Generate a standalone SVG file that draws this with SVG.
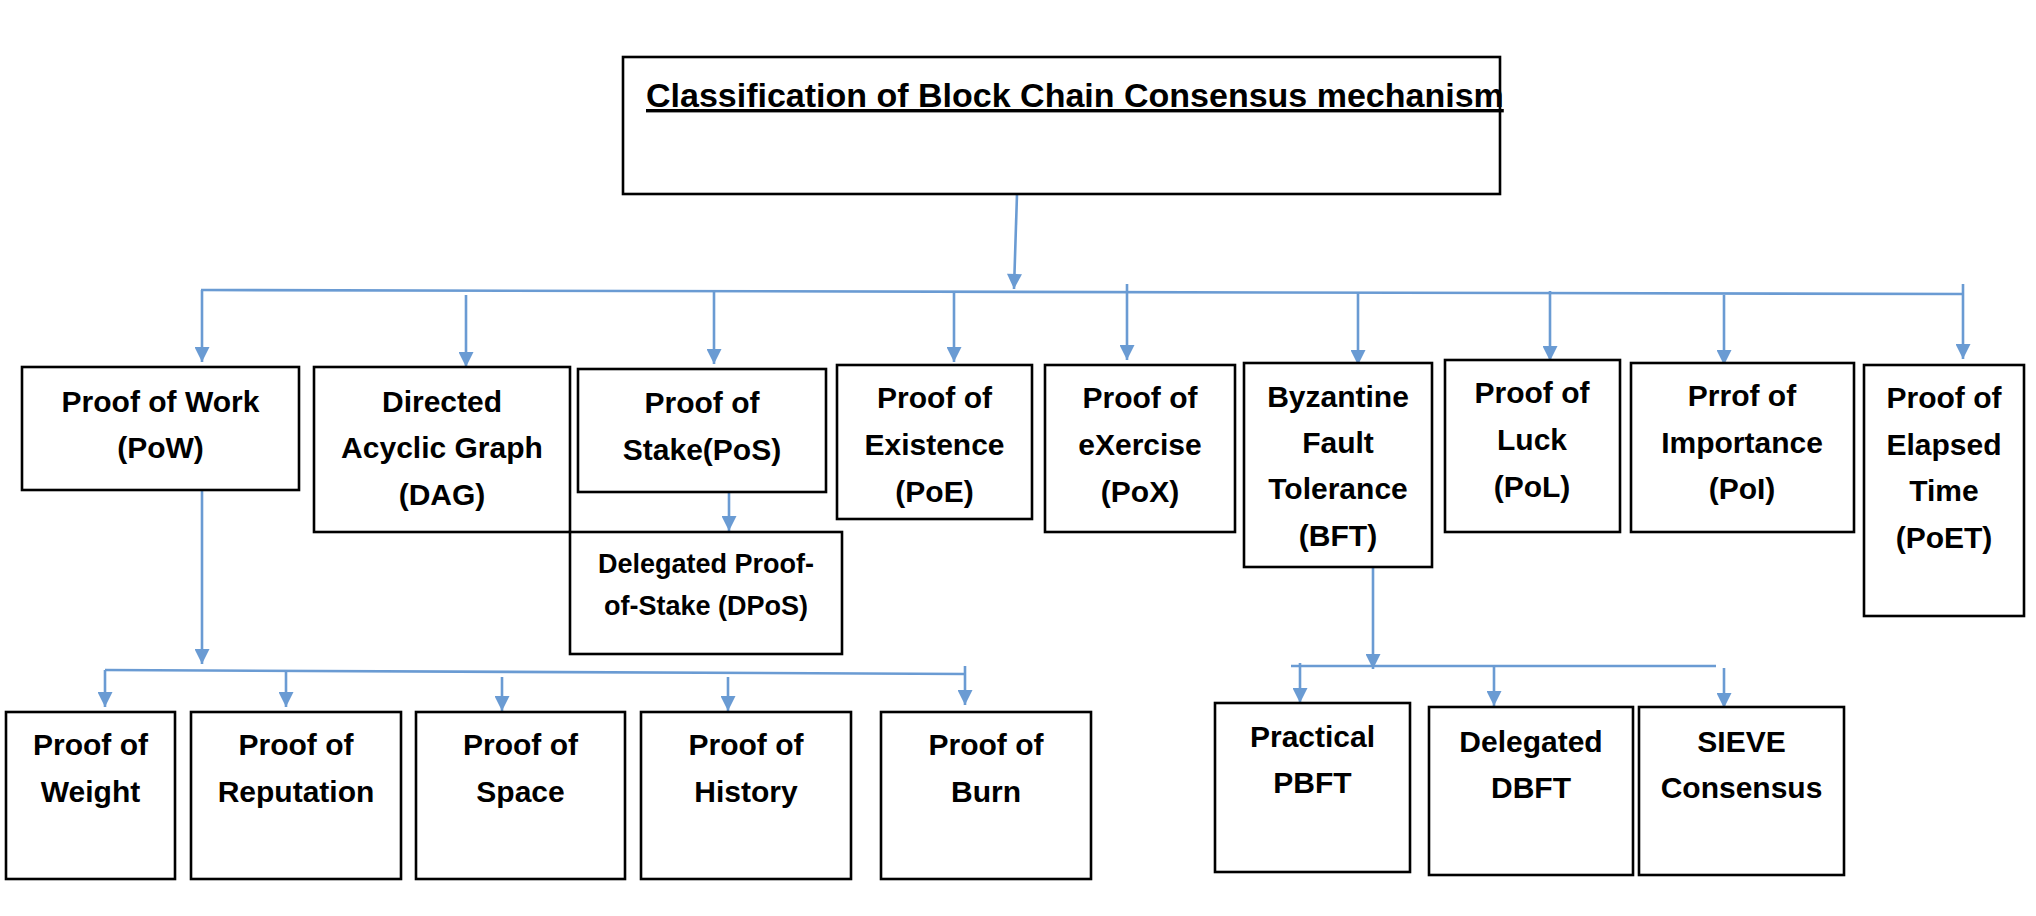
<svg xmlns="http://www.w3.org/2000/svg" width="2036" height="916" viewBox="0 0 2036 916">
<style>
.box{fill:#fff;stroke:#000;stroke-width:2.6}
.t{font-family:"Liberation Sans",Arial,sans-serif;font-weight:bold;font-size:30px;fill:#000;text-anchor:middle}
.t27{font-size:27px}
.c{stroke:#6a9bd3;stroke-width:2.6;fill:none}
.a{marker-end:url(#ah)}
</style>
<defs>
<marker id="ah" viewBox="0 0 10 10" refX="10" refY="5" markerWidth="17" markerHeight="15" markerUnits="userSpaceOnUse" orient="auto">
<path d="M0,0 L10,5 L0,10 z" fill="#6a9bd3"/>
</marker>
</defs>
<rect width="2036" height="916" fill="#fff"/>
<g id="connectors">
<line class="c a" x1="1017" y1="194" x2="1014" y2="289"/>
<line class="c" x1="201" y1="290" x2="1963" y2="294"/>
<line class="c a" x1="202" y1="290" x2="202" y2="362"/>
<line class="c a" x1="466" y1="295" x2="466" y2="367"/>
<line class="c a" x1="714" y1="291" x2="714" y2="364"/>
<line class="c a" x1="954" y1="291" x2="954" y2="362"/>
<line class="c a" x1="1127" y1="284" x2="1127" y2="360"/>
<line class="c a" x1="1358" y1="293" x2="1358" y2="365"/>
<line class="c a" x1="1550" y1="291" x2="1550" y2="361"/>
<line class="c a" x1="1724" y1="295" x2="1724" y2="365"/>
<line class="c a" x1="1963" y1="284" x2="1963" y2="359"/>
<line class="c a" x1="729" y1="488" x2="729" y2="531"/>
<line class="c a" x1="202" y1="482" x2="202" y2="664"/>
<line class="c" x1="105" y1="670" x2="965" y2="674"/>
<line class="c a" x1="105" y1="670" x2="105" y2="707"/>
<line class="c a" x1="286" y1="671" x2="286" y2="707"/>
<line class="c a" x1="502" y1="677" x2="502" y2="711"/>
<line class="c a" x1="728" y1="677" x2="728" y2="711"/>
<line class="c a" x1="965" y1="666" x2="965" y2="705"/>
<line class="c a" x1="1373" y1="556" x2="1373" y2="669"/>
<line class="c" x1="1291" y1="666" x2="1716" y2="666"/>
<line class="c a" x1="1300" y1="663" x2="1300" y2="703"/>
<line class="c a" x1="1494" y1="666" x2="1494" y2="706"/>
<line class="c a" x1="1724" y1="668" x2="1724" y2="708"/>
</g>
<g id="title">
<rect class="box" x="623" y="57" width="877" height="137"/>
<text x="646" y="107" font-family="Liberation Sans, Arial, sans-serif" font-weight="bold" font-size="34" text-decoration="underline">Classification of Block Chain Consensus mechanism</text>
</g>
<g id="pow">
<rect class="box" x="22" y="367" width="277" height="123"/>
<text class="t" x="160.5" y="412">Proof of Work</text>
<text class="t" x="160.5" y="458">(PoW)</text>
</g>
<g id="dag">
<rect class="box" x="314" y="367" width="256" height="165"/>
<text class="t" x="442" y="412">Directed</text>
<text class="t" x="442" y="458">Acyclic Graph</text>
<text class="t" x="442" y="505">(DAG)</text>
</g>
<g id="pos">
<rect class="box" x="578" y="369" width="248" height="123"/>
<text class="t" x="702" y="413">Proof of</text>
<text class="t" x="702" y="460">Stake(PoS)</text>
</g>
<g id="dpos">
<rect class="box" x="570" y="532" width="272" height="122"/>
<text class="t t27" x="706" y="573">Delegated Proof-</text>
<text class="t t27" x="706" y="615">of-Stake (DPoS)</text>
</g>
<g id="poe">
<rect class="box" x="837" y="365" width="195" height="154"/>
<text class="t" x="934.5" y="408">Proof of</text>
<text class="t" x="934.5" y="455">Existence</text>
<text class="t" x="934.5" y="502">(PoE)</text>
</g>
<g id="pox">
<rect class="box" x="1045" y="365" width="190" height="167"/>
<text class="t" x="1140" y="408">Proof of</text>
<text class="t" x="1140" y="455">eXercise</text>
<text class="t" x="1140" y="502">(PoX)</text>
</g>
<g id="bft">
<rect class="box" x="1244" y="363" width="188" height="204"/>
<text class="t" x="1338" y="407">Byzantine</text>
<text class="t" x="1338" y="453">Fault</text>
<text class="t" x="1338" y="499">Tolerance</text>
<text class="t" x="1338" y="546">(BFT)</text>
</g>
<g id="pol">
<rect class="box" x="1445" y="360" width="175" height="172"/>
<text class="t" x="1532" y="403">Proof of</text>
<text class="t" x="1532" y="450">Luck</text>
<text class="t" x="1532" y="497">(PoL)</text>
</g>
<g id="poi">
<rect class="box" x="1631" y="363" width="223" height="169"/>
<text class="t" x="1742" y="406">Prrof of</text>
<text class="t" x="1742" y="453">Importance</text>
<text class="t" x="1742" y="499">(PoI)</text>
</g>
<g id="poet">
<rect class="box" x="1864" y="365" width="160" height="251"/>
<text class="t" x="1944" y="408">Proof of</text>
<text class="t" x="1944" y="455">Elapsed</text>
<text class="t" x="1944" y="501">Time</text>
<text class="t" x="1944" y="548">(PoET)</text>
</g>
<g id="weight">
<rect class="box" x="6" y="712" width="169" height="167"/>
<text class="t" x="90.5" y="755">Proof of</text>
<text class="t" x="90.5" y="802">Weight</text>
</g>
<g id="reputation">
<rect class="box" x="191" y="712" width="210" height="167"/>
<text class="t" x="296" y="755">Proof of</text>
<text class="t" x="296" y="802">Reputation</text>
</g>
<g id="space">
<rect class="box" x="416" y="712" width="209" height="167"/>
<text class="t" x="520.5" y="755">Proof of</text>
<text class="t" x="520.5" y="802">Space</text>
</g>
<g id="history">
<rect class="box" x="641" y="712" width="210" height="167"/>
<text class="t" x="746" y="755">Proof of</text>
<text class="t" x="746" y="802">History</text>
</g>
<g id="burn">
<rect class="box" x="881" y="712" width="210" height="167"/>
<text class="t" x="986" y="755">Proof of</text>
<text class="t" x="986" y="802">Burn</text>
</g>
<g id="practical">
<rect class="box" x="1215" y="703" width="195" height="169"/>
<text class="t" x="1312.5" y="747">Practical</text>
<text class="t" x="1312.5" y="793">PBFT</text>
</g>
<g id="delegated">
<rect class="box" x="1429" y="707" width="204" height="168"/>
<text class="t" x="1531" y="752">Delegated</text>
<text class="t" x="1531" y="798">DBFT</text>
</g>
<g id="sieve">
<rect class="box" x="1639" y="707" width="205" height="168"/>
<text class="t" x="1741.5" y="752">SIEVE</text>
<text class="t" x="1741.5" y="798">Consensus</text>
</g>
</svg>
